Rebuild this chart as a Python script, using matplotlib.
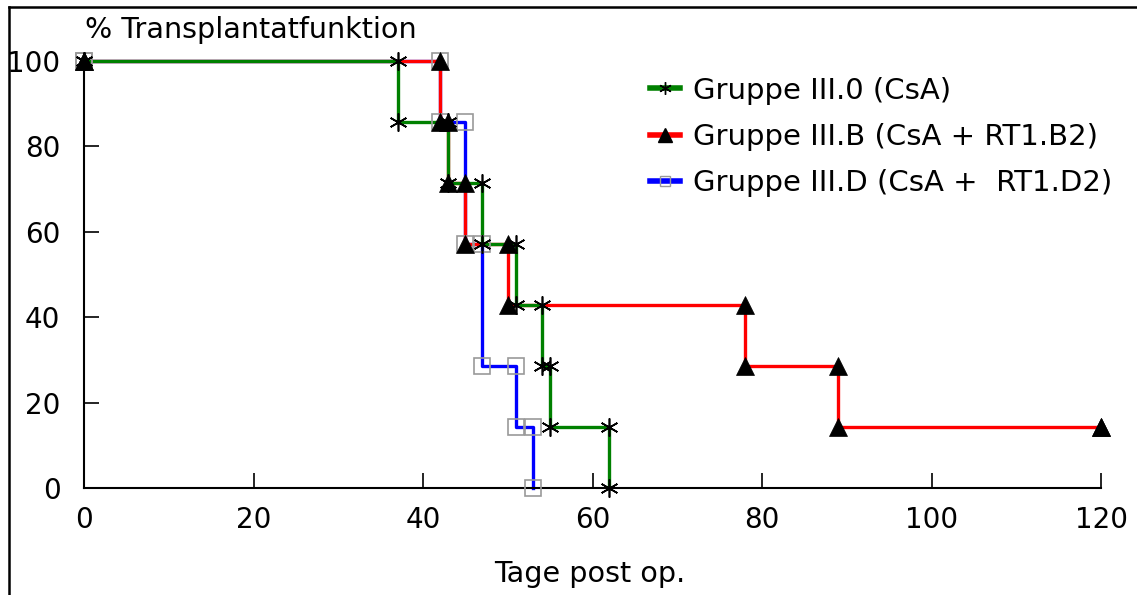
import matplotlib
matplotlib.use("Agg")
import matplotlib.pyplot as plt
from matplotlib.lines import Line2D

# Data (Kaplan-Meier step points: event times and survival %)
green_t = [0, 37, 43, 47, 51, 54, 55, 62]
green_s = [100, 85.7, 71.4, 57.1, 42.9, 28.6, 14.3, 0]
red_t = [0, 42, 43, 45, 50, 78, 89, 120]
red_s = [100, 85.7, 71.4, 57.1, 42.9, 28.6, 14.3, 14.3]
blue_t = [0, 42, 45, 47, 51, 53]
blue_s = [100, 85.7, 57.1, 28.6, 14.3, 0]

labels = ["Gruppe III.0 (CsA)", "Gruppe III.B (CsA + RT1.B2)", "Gruppe III.D (CsA +  RT1.D2)"]
x_ticks = [0, 20, 40, 60, 80, 100, 120]
y_ticks = [0, 20, 40, 60, 80, 100]

FONT = "DejaVu Sans"
FS = 20
FS_LAB = 20.6
FS_LEG = 21

W, H = 1137, 595
fig = plt.figure(figsize=(W / 100, H / 100), dpi=100)
ax = fig.add_axes([84 / W, 1 - 488 / H, (1101 - 84) / W, (488 - 61) / H])

def corners(t, s):
    xs, ys = [], []
    prev = s[0]
    for ti, si in zip(t, s):
        xs += [ti, ti]
        ys += [prev, si]
        prev = si
    return xs, ys

series = [
    (blue_t, blue_s, "#0000ff", dict(marker="s", ms=11, mfc="none", mec="#999999", mew=1.2), 1),
    (red_t, red_s, "#ff0000", dict(marker="^", ms=13, mfc="black", mec="black", mew=0.5), 2),
    (green_t, green_s, "#008000", dict(marker=(6, 2, 0), ms=13, mfc="black", mec="black", mew=1.2), 3),
]

for t, s, c, mk, z in series:
    ax.step(t, s, where="post", color=c, lw=2.4, zorder=z, clip_on=False)

for t, s, c, mk, z in series:
    xs, ys = corners(t, s)
    ax.plot(xs, ys, ls="none", zorder=5 + z, clip_on=False, **mk)

ax.set_xlim(0, 120)
ax.set_ylim(0, 100)
for sp in ["top", "right"]:
    ax.spines[sp].set_visible(False)
ax.spines["left"].set_linewidth(1.5)
ax.spines["bottom"].set_linewidth(1.5)
ax.set_xticks(x_ticks)
ax.set_yticks(y_ticks)
ax.tick_params(direction="in", length=11, width=1.2, labelsize=FS, color="black")
ax.tick_params(axis="x", pad=13)
ax.tick_params(axis="y", pad=17)
for lab in ax.get_xticklabels() + ax.get_yticklabels():
    lab.set_fontfamily(FONT)

fig.text(85 / W, 1 - 38 / H, "% Transplantatfunktion", fontsize=FS_LAB, family=FONT,
         ha="left", va="baseline")
fig.text(590 / W, 1 - 582 / H, "Tage post op.", fontsize=FS_LAB, family=FONT,
         ha="center", va="baseline")

handles = [
    Line2D([], [], color="#008000", lw=4, marker=(6, 2, 0), ms=9, mfc="black", mec="black", mew=1),
    Line2D([], [], color="#ff0000", lw=4, marker="^", ms=10, mfc="black", mec="black"),
    Line2D([], [], color="#0000ff", lw=4, marker="s", ms=7, mfc="none", mec="#999999", mew=1),
]
leg = ax.legend(handles, labels, loc="upper left", bbox_to_anchor=(638 / W, 1 - 65 / H),
                bbox_transform=fig.transFigure, frameon=False, prop={"family": FONT, "size": FS_LEG},
                handlelength=1.05, handletextpad=0.45, labelspacing=0.62, borderaxespad=0)

# figure border (left and top)
fig.add_artist(Line2D([8.5 / W, 8.5 / W], [0, 1 - 7 / H], color="black", lw=1.8, transform=fig.transFigure))
fig.add_artist(Line2D([8.5 / W, 1], [1 - 7 / H, 1 - 7 / H], color="black", lw=1.8, transform=fig.transFigure))

fig.savefig("out.png", dpi=100)
